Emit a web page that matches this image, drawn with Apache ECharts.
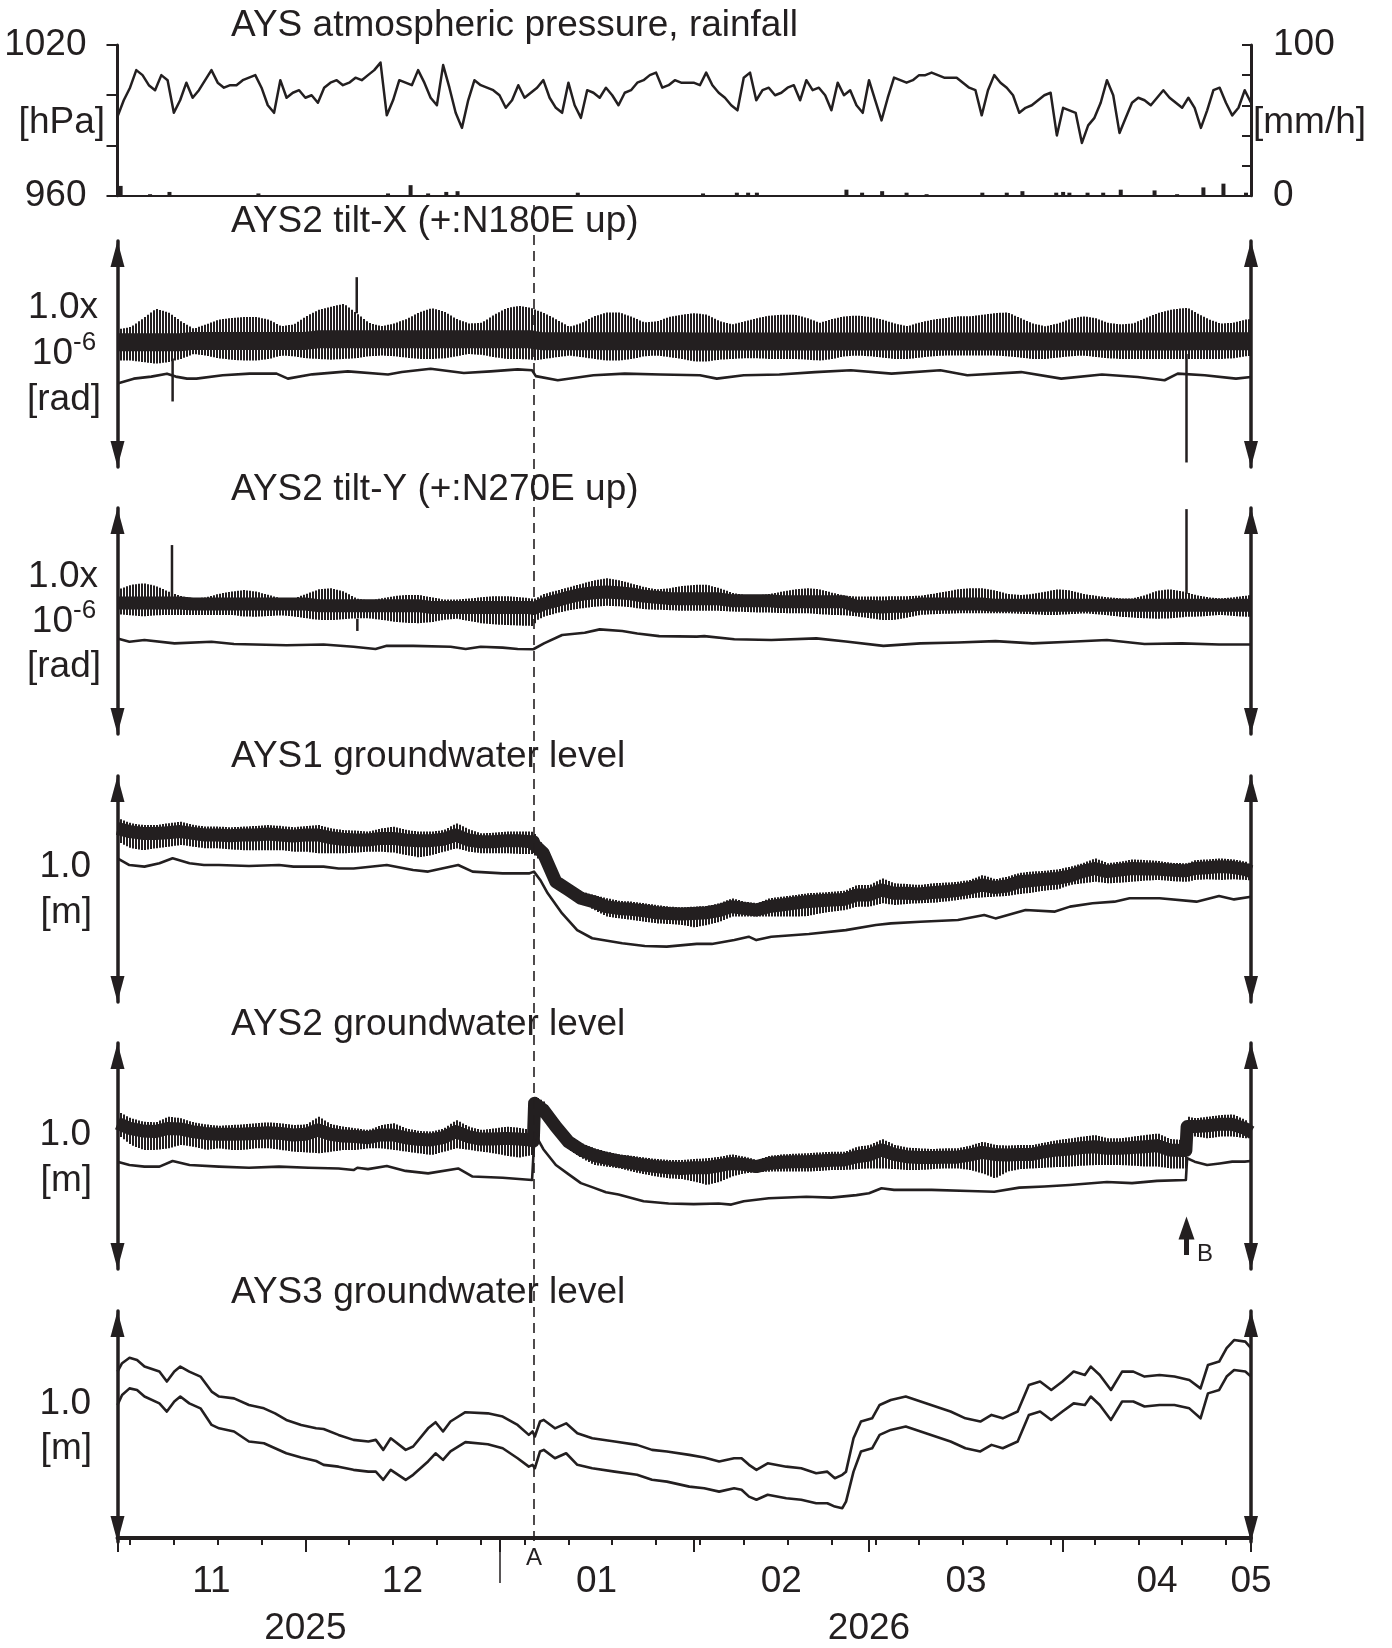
<!DOCTYPE html>
<html><head><meta charset="utf-8">
<script src="https://cdn.jsdelivr.net/npm/echarts@6/dist/echarts.min.js"></script>
<style>html,body{margin:0;padding:0;background:#fff}#c{width:1392px;height:1648px}</style>
</head><body><div id="c"></div>
<script>
// ---------------- DATA ----------------
const startDay = [2025, 10, 1];   // 2025-11-01
const endDay = [2026, 4, 1];      // 2026-05-01
const eventA = 66.5;              // days after start
const eventB = 170.7;
const bArrow = [0.062, 0.232];    // [m] extent of the B arrow

const monthLabels = ['11', '12', '01', '02', '03', '04', '05'];
const monthLabelAt = [[2025,10,16,0],[2025,11,16,12],[2026,0,16,12],[2026,1,15,0],[2026,2,16,12],[2026,3,16,0],[2026,4,1,0]];
const yearLabels = ['2025', '2026'];
const yearLabelAt = [[2025,11,1],[2026,2,1]];
const titles = ['AYS atmospheric pressure, rainfall','AYS2 tilt-X (+:N180E up)','AYS2 tilt-Y (+:N270E up)','AYS1 groundwater level','AYS2 groundwater level','AYS3 groundwater level'];

// daily atmospheric pressure [hPa], day 0..181
const pressure = [991.5,998,1003,1010,1008,1004,1002,1008,1006,993,998,1005,999,1002,1006,1010,1005,1003,1004,1004,
1006,1007,1008,1003,996,993,1006,999,1001,1002,999,1000,997,1003,1005,1006,1004,1005,1007,1006,
1008,1010,1013,992,998,1006,1005,1004,1010,1005,999,996,1012,1003,993,987,998,1006,1004,1003,
1002,1000,995,998,1004,999,1001,1003,1006,999,995,993,1005,996,991,1002,1001,999,1003,1000,
996,1001,1002,1005,1006,1008,1009,1003,1004,1006,1005,1005,1005,1004,1009,1004,1001,999,996,994,
1007,1009,998,1002,1003,1000,1001,1003,1004,998,1006,1002,1003,1000,994,1005,1000,1002,996,993,
1006,998,990,999,1007,1006,1005,1006,1008,1008,1009,1008,1007,1007,1007,1005,1003,1002,992,1002,
1008,1005,1003,1000,993,995,996,998,1000,1001,984,995,994,993,981,988,991,997,1006,1000,
985,991,997,999,998,996,999,1002,999,997,995,999,995,987,994,1002,1003,997,992,995,1002,997];

// rainfall [mm/h]
const rainDays = [0.5,5.2,8.3,22.5,43.2,46.8,49.6,52.5,54.3,73.5,93.5,98.9,100.7,102.1,116.4,118.9,122.1,126,129.2,138.1,142,144.5,149.9,151,152,154.9,157.4,160.2,165.6,169.2,173.4,176.6,180.2];
const rainValues = [6.5,1,2.5,1.5,1.5,7,1.5,2.5,3,2,1.5,2,2,2,4,2,3,2,1,2,2,3,2,2.5,2,2,2,4,3.5,1,5.5,8,2];

// sampling days of the tidal bands
const bandDays = [0,2,4,6,8,10,12,14,16,18,20,22,24,26,28,30,32,34,36,38,40,42,44,46,48,50,52,54,56,58,60,62,64,66,66.4,66.6,
68,70,72,74,76,78,80,82,84,86,88,90,92,94,96,98,100,102,104,106,108,110,112,114,116,118,120,122,124,126,128,130,132,134,136,138,140,142,144,146,148,150,152,154,156,158,160,162,164,166,168,170,170.6,170.8,172,174,176,178,180,181];

// AYS2 tilt-X [1e-6 rad, relative]
const tiltXHi = [.609,.620,.659,.700,.684,.645,.612,.631,.652,.659,.664,.664,.652,.623,.631,.667,.696,.710,.722,.681,.638,.623,.635,.655,.684,.703,.688,.655,.635,.638,.674,.703,.713,.703,.699,.696,
.681,.652,.620,.638,.667,.684,.684,.664,.640,.645,.664,.674,.681,.674,.645,.631,.645,.659,.670,.674,.674,.659,.638,.655,.667,.670,.664,.652,.635,.623,.640,.652,.659,.667,.667,.674,.681,.684,.659,.635,.623,.635,.655,.667,.659,.638,.631,.635,.659,.681,.696,.703,.703,.703,.684,.655,.635,.638,.652,.655];
const tiltXLo = [.471,.471,.464,.457,.464,.478,.500,.493,.481,.475,.471,.471,.478,.493,.490,.481,.478,.475,.478,.481,.490,.493,.490,.484,.478,.478,.481,.490,.500,.496,.486,.478,.478,.475,.475,.471,
.478,.486,.493,.486,.478,.471,.471,.478,.490,.493,.486,.478,.467,.467,.475,.478,.481,.481,.478,.478,.478,.475,.471,.478,.490,.493,.490,.484,.478,.478,.484,.490,.493,.493,.493,.493,.493,.490,.484,.478,.478,.484,.490,.493,.487,.481,.478,.478,.478,.478,.478,.478,.478,.478,.478,.478,.478,.481,.490,.493];
const tiltXMid = [.552,.552,.552,.552,.552,.552,.558,.558,.558,.558,.558,.558,.558,.558,.558,.558,.565,.565,.565,.565,.565,.565,.565,.565,.565,.565,.565,.565,.565,.565,.565,.565,.565,.565,.562,.558,
.556,.556,.556,.556,.556,.556,.556,.556,.556,.556,.556,.556,.555,.555,.555,.555,.555,.555,.555,.555,.555,.555,.555,.555,.555,.555,.555,.555,.555,.555,.555,.555,.555,.555,.555,.555,.555,.555,.555,.555,.555,.555,.555,.555,.555,.555,.555,.555,.555,.555,.555,.555,.555,.555,.556,.556,.556,.556,.556,.556];
const tiltXSmoothDays = [0,2.6,5.4,7.9,9.3,11.1,12.6,16.8,21.1,25.4,27.2,31.1,36.8,43.2,45.4,50,55.3,59.6,63.9,66.2,66.8,70.3,76,81,86.7,93,95.7,100,105.7,111.4,117.1,123.6,131.4,135.7,144.3,150.7,157.2,162.9,167.2,169.3,173.6,178.6,181];
const tiltXSmooth = [.370,.391,.400,.413,.400,.391,.391,.406,.413,.413,.391,.410,.423,.409,.420,.435,.416,.423,.432,.428,.402,.384,.406,.413,.409,.406,.391,.406,.409,.420,.428,.413,.428,.406,.420,.391,.409,.398,.384,.413,.406,.391,.398];
const tiltXSpikeDays = [8.8, 38.2, 170.7];
const tiltXSpikeFrom = [0.48, 0.68, 0.50];
const tiltXSpikeTo = [0.29, 0.84, 0.02];

// AYS2 tilt-Y
const tiltYHi = [.640,.660,.667,.655,.630,.610,.600,.605,.620,.630,.637,.630,.615,.600,.600,.620,.640,.645,.630,.600,.590,.600,.610,.615,.615,.605,.595,.595,.600,.605,.610,.610,.605,.600,.600,.600,
.620,.635,.650,.665,.680,.689,.680,.665,.650,.640,.645,.655,.660,.660,.645,.625,.615,.612,.620,.630,.640,.645,.640,.625,.612,.608,.608,.608,.610,.610,.612,.620,.630,.640,.645,.645,.635,.620,.615,.620,.630,.640,.635,.620,.612,.605,.600,.600,.615,.635,.640,.630,.625,.625,.615,.605,.600,.605,.612,.615];
const tiltYLo = [.530,.525,.520,.525,.527,.527,.527,.527,.527,.527,.520,.519,.522,.525,.520,.512,.505,.504,.508,.512,.512,.505,.497,.492,.490,.495,.505,.510,.500,.490,.485,.482,.480,.478,.478,.500,
.520,.535,.548,.556,.563,.567,.565,.560,.552,.550,.548,.545,.545,.545,.545,.542,.540,.538,.537,.535,.534,.534,.530,.527,.525,.520,.512,.504,.505,.515,.527,.530,.532,.534,.534,.534,.534,.534,.532,.530,.527,.527,.530,.534,.530,.525,.519,.515,.512,.510,.512,.517,.519,.519,.519,.522,.527,.522,.519,.519];
const tiltYMid = [.580,.580,.580,.580,.580,.580,.575,.575,.575,.575,.575,.575,.575,.575,.575,.575,.568,.568,.568,.568,.568,.568,.568,.568,.568,.560,.560,.560,.560,.560,.560,.560,.560,.560,.555,.560,
.575,.590,.605,.618,.625,.628,.625,.620,.610,.605,.600,.598,.598,.598,.598,.590,.590,.590,.590,.585,.585,.585,.585,.585,.585,.565,.565,.562,.565,.565,.575,.575,.575,.575,.575,.575,.570,.570,.570,.570,.570,.570,.570,.570,.570,.570,.570,.570,.570,.570,.570,.570,.570,.570,.570,.570,.570,.570,.570,.570];
const tiltYSmoothDays = [0,1.9,4.3,9.1,15,18.6,27,32.9,37.7,41.2,43,47.2,53.2,55.6,58,61.5,63.9,66.4,66.6,68.1,71,74.6,77,80.6,83,86.5,92.5,93.7,98.5,104.4,111.6,116.3,122.3,128.2,134.2,140.2,146.1,152.1,158,164,170,175.9,181];
const tiltYSmooth = [.423,.408,.416,.401,.408,.398,.393,.396,.386,.376,.390,.390,.386,.376,.386,.382,.376,.375,.380,.401,.438,.448,.463,.456,.445,.433,.431,.433,.419,.416,.423,.409,.390,.401,.405,.411,.401,.408,.416,.398,.401,.396,.396];
const tiltYSpikeDays = [8.7, 38.3, 170.7];
const tiltYSpikeFrom = [0.60, 0.51, 0.62];
const tiltYSpikeTo = [0.836, 0.456, 0.995];

// AYS1 groundwater level [m, relative]
const gw1Hi = [.813,.791,.783,.783,.791,.798,.783,.776,.776,.773,.776,.779,.783,.779,.773,.779,.783,.768,.761,.758,.754,.768,.776,.761,.754,.754,.761,.791,.764,.746,.749,.754,.754,.754,.749,.739,
.687,.555,.518,.488,.473,.459,.448,.444,.437,.429,.422,.419,.422,.425,.437,.459,.444,.437,.459,.466,.473,.481,.484,.488,.493,.518,.518,.547,.525,.522,.518,.525,.528,.532,.540,.562,.543,.555,.572,.577,.581,.587,.599,.614,.636,.614,.621,.631,.628,.625,.616,.614,.614,.614,.628,.631,.636,.631,.621,.606];
const gw1Mid = [.768,.754,.746,.746,.749,.754,.746,.739,.739,.736,.739,.739,.743,.739,.734,.739,.739,.727,.720,.717,.717,.724,.724,.717,.714,.714,.720,.739,.717,.709,.709,.714,.714,.709,.709,.695,
.658,.532,.496,.459,.444,.422,.414,.410,.404,.395,.392,.389,.392,.395,.404,.422,.414,.407,.422,.429,.437,.444,.448,.451,.454,.473,.473,.496,.481,.481,.478,.484,.488,.493,.503,.518,.507,.513,.532,.537,.543,.547,.557,.577,.591,.577,.584,.591,.588,.588,.584,.581,.581,.581,.591,.594,.599,.596,.587,.577];
const gw1Lo = [.709,.680,.672,.680,.687,.695,.687,.680,.680,.675,.672,.672,.672,.672,.665,.665,.658,.658,.658,.661,.665,.665,.661,.650,.640,.650,.665,.680,.665,.658,.658,.658,.655,.655,.655,.643,
.614,.503,.466,.437,.407,.378,.370,.363,.355,.348,.345,.341,.330,.341,.355,.378,.378,.378,.378,.378,.378,.380,.392,.400,.407,.422,.422,.437,.429,.434,.437,.439,.444,.451,.459,.463,.466,.469,.478,.484,.493,.498,.518,.525,.532,.525,.528,.532,.537,.540,.535,.532,.532,.532,.540,.543,.540,.543,.540,.537];
const gw1SmoothDays = [0,1.9,4.3,6.7,8.8,11.5,13.8,16.2,21,25.8,28.1,32.9,35.3,37.7,43,47.2,49.6,54.4,56.7,61.5,65.7,66.5,67.5,68.7,71,73.4,75.8,80.6,84.2,87.7,92.5,94.9,98.5,100.8,102,104.4,110.4,116.3,121.1,123.5,128.2,134.2,138.4,140.2,145,149.7,152.1,155.7,159.2,161.6,166.4,172.3,175.9,178.3,181];
const gw1Smooth = [.636,.606,.599,.614,.636,.614,.606,.606,.602,.606,.599,.599,.591,.591,.606,.584,.577,.606,.577,.569,.569,.577,.540,.481,.392,.318,.282,.260,.248,.245,.257,.257,.274,.289,.274,.289,.301,.318,.341,.348,.355,.363,.385,.370,.407,.400,.422,.437,.444,.459,.459,.444,.469,.454,.466];

// AYS2 groundwater level
const gw2Hi = [.696,.667,.652,.649,.674,.667,.649,.640,.634,.637,.640,.645,.649,.645,.637,.640,.674,.640,.630,.622,.615,.637,.645,.622,.611,.608,.622,.659,.630,.615,.622,.630,.625,.615,.608,.763,
.740,.667,.593,.556,.534,.519,.507,.501,.493,.487,.482,.482,.487,.490,.497,.507,.497,.482,.501,.507,.510,.512,.516,.519,.519,.541,.549,.575,.549,.537,.534,.531,.534,.534,.546,.563,.549,.546,.549,.549,.560,.571,.578,.586,.593,.578,.578,.586,.593,.600,.575,.571,.571,.674,.667,.674,.681,.684,.659,.630];
const gw2Mid = [.645,.622,.611,.608,.622,.620,.608,.600,.596,.596,.597,.600,.603,.600,.593,.596,.615,.596,.588,.586,.581,.593,.593,.581,.574,.571,.581,.608,.586,.575,.575,.578,.575,.571,.566,.733,
.704,.630,.563,.527,.504,.490,.478,.470,.460,.453,.448,.445,.448,.448,.457,.467,.463,.453,.467,.472,.475,.475,.478,.481,.482,.497,.504,.527,.507,.497,.493,.493,.494,.495,.504,.516,.507,.504,.507,.507,.519,.527,.531,.537,.541,.534,.534,.538,.541,.546,.527,.524,.524,.630,.630,.634,.640,.640,.622,.605];
const gw2Lo = [.593,.549,.527,.527,.534,.549,.541,.527,.534,.527,.527,.534,.534,.527,.519,.516,.512,.519,.527,.527,.534,.534,.527,.519,.512,.504,.519,.534,.527,.519,.512,.501,.493,.504,.504,.689,
.667,.593,.527,.490,.460,.453,.445,.431,.419,.409,.401,.398,.386,.372,.386,.409,.423,.428,.431,.431,.431,.431,.434,.438,.438,.442,.445,.445,.442,.438,.438,.442,.445,.445,.438,.423,.401,.431,.442,.445,.448,.451,.453,.457,.460,.460,.460,.457,.453,.453,.445,.445,.445,.593,.586,.578,.586,.586,.578,.578];
const gw2SmoothDays = [0,1.9,4.3,6.7,8.8,11.5,16.2,21,25.8,30.5,35.3,37.7,38.3,40,43,46,49.6,54.4,56.7,61.5,66.2,66.4,66.6,68,70,72,74,76,78,80,84,88,92,96,98,100,104,110,114,118,120,122,124,130,136,140,144,148,152,158,162,166,170.6,170.8,172,174,176,178,180,181];
const gw2Smooth = [.475,.460,.453,.453,.478,.460,.453,.448,.453,.448,.445,.438,.448,.442,.456,.434,.423,.445,.409,.404,.394,.386,.600,.530,.460,.420,.380,.360,.340,.330,.300,.290,.287,.290,.285,.300,.313,.320,.316,.327,.335,.357,.350,.350,.345,.342,.360,.365,.372,.385,.380,.390,.394,.490,.475,.460,.467,.475,.475,.478];

// AYS3 groundwater level (two records)
const gw3Days = [0,0.73,1.92,3.12,4.31,6.69,7.88,9.07,10.03,11.46,13.25,15.03,16.22,18.61,20.99,23.38,25.16,26.95,29.33,31.72,
32.91,35.29,37.68,40.06,41.25,42.44,43.63,46.02,47.21,49.59,50.79,51.98,53.17,55.55,59.13,61.51,63.89,65.68,66.28,66.64,
67.47,68.07,69.85,71.64,73.43,75.81,79.39,82.96,85.35,87.73,91.31,93.69,96.07,98.46,99.65,100.84,102.03,103.82,106.8,109.18,
111.57,113.35,114.55,115.74,116.33,117.53,118.72,120.5,121.7,123.48,125.87,128.25,130.63,133.02,135.4,137.78,139.57,141.36,143.74,145.53,
147.32,149.11,150.89,152.68,154.47,155.42,156.85,158.64,160.42,162.21,164.0,166.39,168.77,171.15,172.94,174.13,175.92,177.11,178.3,180.09,181];
const gw3Upper = [.733,.770,.794,.784,.755,.733,.689,.733,.755,.733,.711,.645,.623,.615,.586,.571,.549,.520,.498,.483,
.480,.454,.432,.425,.432,.388,.439,.388,.403,.483,.510,.469,.513,.554,.549,.535,.498,.454,.469,.447,
.513,.520,.483,.505,.461,.439,.425,.410,.388,.381,.366,.354,.337,.351,.351,.322,.300,.329,.314,.307,
.285,.292,.263,.278,.292,.439,.513,.527,.586,.608,.623,.601,.579,.557,.527,.513,.542,.527,.557,.674,
.689,.652,.689,.733,.718,.755,.718,.652,.733,.733,.711,.718,.711,.696,.659,.762,.777,.836,.872,.865,.836];
const gw3Lower = [.586,.630,.659,.652,.623,.593,.557,.601,.623,.593,.571,.498,.483,.469,.425,.417,.395,.373,.354,.339,
.322,.314,.300,.292,.292,.256,.300,.256,.278,.337,.373,.344,.381,.422,.413,.395,.351,.314,.322,.307,
.381,.388,.351,.373,.322,.307,.292,.278,.256,.248,.226,.219,.204,.219,.212,.182,.168,.190,.175,.168,
.153,.153,.138,.131,.160,.292,.381,.395,.454,.476,.491,.469,.447,.425,.395,.381,.410,.395,.425,.542,
.557,.520,.557,.593,.586,.623,.586,.520,.601,.601,.579,.586,.586,.571,.527,.637,.652,.711,.740,.733,.711];

// ---------------- CHECKS ----------------
(function(){
  const arrs = [tiltXHi,tiltXLo,tiltXMid,tiltYHi,tiltYLo,tiltYMid,gw1Hi,gw1Mid,gw1Lo,gw2Hi,gw2Mid,gw2Lo];
  const names = ['tiltXHi','tiltXLo','tiltXMid','tiltYHi','tiltYLo','tiltYMid','gw1Hi','gw1Mid','gw1Lo','gw2Hi','gw2Mid','gw2Lo'];
  arrs.forEach((a,i)=>{ if (a.length !== bandDays.length) throw new Error(names[i]+' length '+a.length+' != '+bandDays.length); });
  [[tiltXSmoothDays,tiltXSmooth,'tiltX'],[tiltYSmoothDays,tiltYSmooth,'tiltY'],[gw1SmoothDays,gw1Smooth,'gw1'],[gw2SmoothDays,gw2Smooth,'gw2'],[gw3Days,gw3Upper,'gw3U'],[gw3Days,gw3Lower,'gw3L'],[rainDays,rainValues,'rain']]
    .forEach(p=>{ if (p[0].length !== p[1].length) throw new Error(p[2]+' mismatch '+p[0].length+' vs '+p[1].length); });
  if (pressure.length !== 182) throw new Error('pressure length '+pressure.length);
})();

// ---------------- CHART ----------------
const INK = '#231f20';
const FONT = '"Liberation Sans", Arial, sans-serif';
const DAY = 86400000;
const T0 = new Date(startDay[0], startDay[1], startDay[2]).getTime();
const T1 = new Date(endDay[0], endDay[1], endDay[2]).getTime();
const ts = d => T0 + d * DAY;
const pairs = (days, vals) => days.map((d, i) => [ts(d), vals[i]]);

const weekTicks = [];
for (let d = new Date(2025, 10, 3).getTime(); d < T1; d += 7 * DAY) weekTicks.push(d);
const monthTicks = [0,1,2,3,4,5,6].map(i => new Date(2025, 10 + i, 1).getTime());
const yearTick = [new Date(2026, 0, 1).getTime()];
const monthLabelTimes = monthLabelAt.map(a => new Date(a[0], a[1], a[2], a[3]).getTime());
const yearLabelTimes = yearLabelAt.map(a => new Date(a[0], a[1], a[2]).getTime());
const lookup = (times, labels) => v => { let k = 0, best = Infinity; times.forEach((t, i) => { const e = Math.abs(t - v); if (e < best) { best = e; k = i; } }); return labels[k]; };

const gridsGeom = [[45,150.7],[241,226],[508,226],[776,226],[1043,226],[1311,231],[205,1336]];
const grid = gridsGeom.map((g, i) => ({left: 117.5, right: 141, top: g[0], height: g[1], containLabel: false, outerBoundsMode: 'none',
  show: i >= 1 && i <= 5, backgroundColor: '#fff', borderWidth: 0}));

const hiddenX = gi => ({type: 'value', gridIndex: gi, min: T0, max: T1, show: false, splitLine: {show: false}});
const xAxis = [
  Object.assign(hiddenX(0), {show: true, axisLine: {show: true, lineStyle: {color: INK, width: 2}}, axisTick: {show: false}, axisLabel: {show: false}, z: 3}),
  hiddenX(1), hiddenX(2), hiddenX(3), hiddenX(4),
  Object.assign(hiddenX(5), {show: true, position: 'bottom', z: 3,
    axisLine: {show: true, lineStyle: {color: INK, width: 4}},
    axisTick: {show: true, customValues: weekTicks, length: 7, lineStyle: {color: INK, width: 2}},
    axisLabel: {show: true, customValues: monthLabelTimes, formatter: lookup(monthLabelTimes, monthLabels), fontSize: 37, fontFamily: FONT, color: INK, margin: 21}}),
  Object.assign(hiddenX(5), {show: true, position: 'bottom', z: 3,
    axisLine: {show: false}, axisTick: {show: true, customValues: monthTicks, length: 14, lineStyle: {color: INK, width: 2}}, axisLabel: {show: false}}),
  Object.assign(hiddenX(5), {show: true, position: 'bottom', z: 3,
    axisLine: {show: false}, axisTick: {show: true, customValues: yearTick, length: 41, lineStyle: {color: INK, width: 1.5}},
    axisLabel: {show: true, customValues: yearLabelTimes, formatter: lookup(yearLabelTimes, yearLabels), fontSize: 37, fontFamily: FONT, color: INK, margin: 68}}),
  hiddenX(6)
];

const arrowAxis = (gi, pos, min, max) => ({type: 'value', gridIndex: gi, position: pos, min: min, max: max, z: 3,
  axisLine: {show: true, symbol: ['triangle', 'triangle'], symbolSize: [14, 26], symbolOffset: [13, -13], lineStyle: {color: INK, width: 3.5}},
  axisTick: {show: false}, axisLabel: {show: false}, splitLine: {show: false}});
const yAxis = [
  {type: 'value', gridIndex: 0, position: 'left', min: 960, max: 1020, interval: 20, z: 3,
    axisLine: {show: true, lineStyle: {color: INK, width: 3}}, axisTick: {show: true, length: 11, lineStyle: {color: INK, width: 2}},
    axisLabel: {show: true, formatter: v => (v === 960 || v === 1020) ? String(v) : '', fontSize: 37, fontFamily: FONT, color: INK, margin: 31}, splitLine: {show: false}},
  {type: 'value', gridIndex: 0, position: 'right', min: 0, max: 100, interval: 20, z: 3,
    axisLine: {show: true, lineStyle: {color: INK, width: 3}}, axisTick: {show: true, inside: true, length: 9, lineStyle: {color: INK, width: 2}},
    axisLabel: {show: true, formatter: v => (v === 0 || v === 100) ? String(v) : '', fontSize: 37, fontFamily: FONT, color: INK, margin: 22}, splitLine: {show: false}},
  arrowAxis(1, 'left', 0, 1), arrowAxis(1, 'right', 0, 1),
  arrowAxis(2, 'left', 0, 1), arrowAxis(2, 'right', 0, 1),
  arrowAxis(3, 'left', 0, 1), arrowAxis(3, 'right', 0, 1),
  arrowAxis(4, 'left', 0, 1), arrowAxis(4, 'right', 0, 1),
  arrowAxis(5, 'left', -0.018, 1), arrowAxis(5, 'right', -0.018, 1),
  {type: 'value', gridIndex: 6, min: 0, max: 1, show: false, splitLine: {show: false}}
];

const series = [];
series.push({type: 'bar', xAxisIndex: 0, yAxisIndex: 1, data: pairs(rainDays, rainValues), barWidth: 4, itemStyle: {color: INK}, silent: true});
series.push({type: 'line', xAxisIndex: 0, yAxisIndex: 0, data: pressure.map((p, i) => [ts(i), p]), symbol: 'none', lineStyle: {color: INK, width: 2.5, join: 'round'}, z: 3, silent: true});

// tidal band: vertical hatching between lo and hi, plus a solid core along mid
function band(gi, hi, mid, lo, coreW) {
  const segs = [];
  for (let i = 0; i < bandDays.length - 1; i++) segs.push([ts(bandDays[i]), lo[i], hi[i], ts(bandDays[i + 1]), lo[i + 1], hi[i + 1]]);
  series.push({type: 'custom', xAxisIndex: gi, yAxisIndex: gi * 2, data: segs, encode: {x: [0, 3], y: [1, 2, 4, 5]}, silent: true, z: 2,
    renderItem: (params, api) => {
      const a1 = api.coord([api.value(0), api.value(1)]), a2 = api.coord([api.value(0), api.value(2)]);
      const b1 = api.coord([api.value(3), api.value(4)]), b2 = api.coord([api.value(3), api.value(5)]);
      const children = [];
      const step = 3;
      for (let x = Math.ceil(a1[0] / step) * step; x < b1[0]; x += step) {
        const f = (x - a1[0]) / (b1[0] - a1[0]);
        const yl = a1[1] + f * (b1[1] - a1[1]);
        const yh = a2[1] + f * (b2[1] - a2[1]);
        children.push({type: 'rect', shape: {x: x, y: yh, width: 2, height: yl - yh}, style: {fill: INK}});
      }
      return {type: 'group', children: children};
    }});
  series.push({type: 'line', xAxisIndex: gi, yAxisIndex: gi * 2, data: pairs(bandDays, mid), symbol: 'none', lineStyle: {color: INK, width: coreW, join: 'round'}, silent: true, z: 3});
}
function smooth(gi, days, vals) {
  series.push({type: 'line', xAxisIndex: gi, yAxisIndex: gi * 2, data: pairs(days, vals), symbol: 'none', lineStyle: {color: INK, width: 2.6, join: 'round'}, silent: true, z: 3});
}
function spikes(gi, days, from, to) {
  series.push({type: 'custom', xAxisIndex: gi, yAxisIndex: gi * 2, data: days.map((d, i) => [ts(d), from[i], to[i]]), encode: {x: 0, y: [1, 2]}, silent: true, z: 4,
    renderItem: (params, api) => {
      const a = api.coord([api.value(0), api.value(1)]), b = api.coord([api.value(0), api.value(2)]);
      return {type: 'line', shape: {x1: a[0], y1: a[1], x2: b[0], y2: b[1]}, style: {stroke: INK, lineWidth: 2.5}};
    }});
}
band(1, tiltXHi, tiltXMid, tiltXLo, 18); smooth(1, tiltXSmoothDays, tiltXSmooth); spikes(1, tiltXSpikeDays, tiltXSpikeFrom, tiltXSpikeTo);
band(2, tiltYHi, tiltYMid, tiltYLo, 13); smooth(2, tiltYSmoothDays, tiltYSmooth); spikes(2, tiltYSpikeDays, tiltYSpikeFrom, tiltYSpikeTo);
band(3, gw1Hi, gw1Mid, gw1Lo, 13); smooth(3, gw1SmoothDays, gw1Smooth);
band(4, gw2Hi, gw2Mid, gw2Lo, 13); smooth(4, gw2SmoothDays, gw2Smooth);
smooth(5, gw3Days, gw3Upper); smooth(5, gw3Days, gw3Lower);

// B arrow
series.push({type: 'custom', xAxisIndex: 4, yAxisIndex: 8, data: [[ts(eventB), bArrow[0], bArrow[1]]], encode: {x: 0, y: [1, 2]}, silent: true, z: 4,
  renderItem: (params, api) => {
    const b = api.coord([api.value(0), api.value(1)]), t = api.coord([api.value(0), api.value(2)]);
    return {type: 'group', children: [
      {type: 'line', shape: {x1: b[0], y1: b[1], x2: t[0], y2: t[1] + 18}, style: {stroke: INK, lineWidth: 5}},
      {type: 'polygon', shape: {points: [[t[0], t[1]], [t[0] - 8, t[1] + 23], [t[0] + 8, t[1] + 23]]}, style: {fill: INK}}
    ]};
  }});

// event A dashed line spanning panels
series.push({type: 'line', xAxisIndex: 8, yAxisIndex: 12, data: [[ts(eventA), 0.5]], symbol: 'none', lineStyle: {width: 0, opacity: 0}, silent: true, z: 5,
  markLine: {silent: true, symbol: ['none', 'none'], data: [{xAxis: ts(eventA)}],
    lineStyle: {color: INK, width: 1.6, type: [10, 6]},
    label: {show: true, position: 'start', formatter: 'A', color: INK, fontSize: 24, fontFamily: FONT, distance: 5}}});

// texts
const txt = (s, x, y, align, size, z) => ({type: 'text', x: x, y: y, z: z || 5, silent: true,
  style: {text: s, font: (size || 37) + 'px ' + FONT, fill: INK, textAlign: align, align: align, textVerticalAlign: 'middle', verticalAlign: 'middle'}});
const titleY = [26, 222, 490, 757, 1025, 1293];
const graphic = titles.map((s, i) => txt(s, 231, titleY[i], 'left', 37, -1));
graphic.push(txt('[hPa]', 105, 123, 'right'), txt('[mm/h]', 1253, 123, 'left'));
[[308, 354, 343, 400], [577, 622, 611, 667]].forEach(r => {
  graphic.push(txt('1.0x', 98, r[0], 'right'), txt('10', 73, r[1], 'right'), txt('-6', 73, r[2], 'left', 26), txt('[rad]', 101, r[3], 'right'));
});
[[867, 913], [1135, 1181], [1404, 1449]].forEach(r => {
  graphic.push(txt('1.0', 91, r[0], 'right'), txt('[m]', 92, r[1], 'right'));
});
graphic.push(txt('B', 1197, 1254, 'left', 24));

const chart = echarts.init(document.getElementById('c'), null, {renderer: 'canvas'});
chart.setOption({animation: false, backgroundColor: '#fff', grid: grid, xAxis: xAxis, yAxis: yAxis, series: series, graphic: graphic});
</script>
</body></html>
